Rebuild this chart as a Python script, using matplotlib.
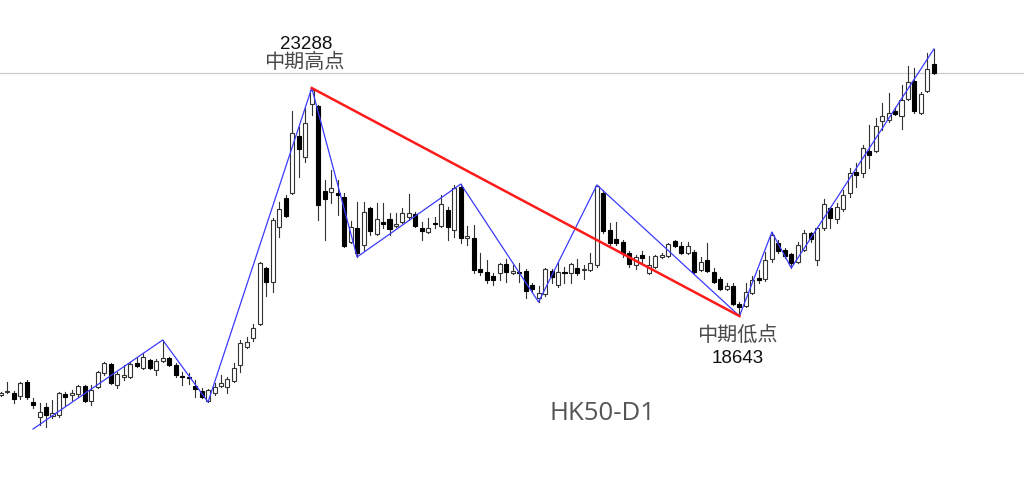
import matplotlib
matplotlib.use("Agg")
import matplotlib.pyplot as plt
from matplotlib.patches import Rectangle

# daily candles, HK50
opens = [17035, 17096, 17076, 17014, 17300, 16892, 16587, 16790, 16607, 16627,
         17055, 17035, 17055, 17218, 16913, 17198, 17483, 17666, 17238, 17401,
         17401, 17687, 17585, 17748, 17544, 17727, 17789, 17646, 17422, 17401,
         17218, 17116, 16913, 17076, 17218, 17198, 17320, 17646, 18013, 18196,
         18481, 19622, 19337, 20457, 21048, 21150, 22311, 21883, 22962, 22922,
         21190, 21170, 21150, 21068, 20151, 20437, 20090, 20844, 20314, 20559,
         20620, 20477, 20559, 20661, 20722, 20437, 20355, 20538, 20477, 20803,
         20396, 21272, 20233, 20233, 19601, 19540, 19459, 19520, 19703, 19520,
         19540, 19561, 19276, 19011, 19092, 19561, 19276, 19540, 19520, 19622,
         19581, 19581, 19683, 21150, 20396, 20213, 20151, 19927, 19683, 19887,
         19520, 19642, 19846, 19866, 20172, 20070, 19927, 19948, 19581, 19785,
         19540, 19398, 19194, 19255, 18889, 18848, 19113, 19418, 19398, 19805,
         20131, 19988, 19907, 19744, 19988, 20335, 19785, 20437, 20844, 20620,
         20824, 21150, 21577, 21557, 22005, 22005, 22616, 22637, 22820, 22718,
         23064, 23431, 22779, 23227, 23777]
highs = [17096, 17300, 17116, 17300, 17340, 16974, 16872, 16872, 16933, 17096,
         17096, 17137, 17238, 17238, 17238, 17524, 17707, 17687, 17503, 17646,
         17707, 17789, 17890, 17768, 17768, 18155, 17809, 17687, 17503, 17483,
         17340, 17177, 17157, 17279, 17442, 17401, 17687, 18155, 18216, 18481,
         19744, 19642, 20640, 20966, 21109, 22820, 22494, 22881, 23288, 22942,
         21414, 21618, 21414, 21150, 20579, 20966, 20966, 20864, 20946, 20946,
         20742, 20742, 20844, 21129, 20763, 20559, 20640, 20661, 21109, 20864,
         21313, 21333, 20477, 20498, 19927, 19785, 19520, 19724, 19805, 19683,
         19724, 19601, 19316, 19255, 19622, 19601, 19744, 19642, 19724, 19805,
         19683, 19927, 21313, 21211, 20538, 20559, 20192, 19968, 19887, 19968,
         19866, 19887, 19927, 20131, 20192, 20151, 20151, 19988, 19846, 20131,
         19622, 19439, 19316, 19316, 18929, 19316, 19459, 19581, 19948, 20355,
         20192, 20029, 19927, 20151, 20396, 20355, 20457, 21027, 20864, 20946,
         21211, 21659, 21761, 22127, 22535, 22677, 22983, 23187, 22901, 23350,
         23737, 23696, 23207, 24001, 24083]
lows = [17014, 17076, 16872, 16953, 16953, 16770, 16424, 16383, 16566, 16587,
        16831, 16933, 16994, 16892, 16831, 17177, 17442, 17259, 17177, 17340,
        17381, 17605, 17564, 17564, 17442, 17707, 17626, 17401, 17238, 17259,
        16994, 16974, 16892, 17035, 17198, 17076, 17300, 17503, 17992, 18135,
        18461, 19051, 19133, 20253, 20661, 21129, 21475, 21781, 22738, 20600,
        20192, 20946, 20701, 20050, 20131, 19846, 19988, 20294, 20294, 20437,
        20294, 20457, 20538, 20600, 20457, 20192, 20335, 20437, 20457, 20192,
        20253, 20131, 20090, 19520, 19479, 19316, 19276, 19377, 19337, 19500,
        19337, 19011, 19133, 18929, 19051, 19316, 19235, 19316, 19316, 19479,
        19398, 19561, 19642, 20335, 20090, 20090, 19846, 19642, 19601, 19724,
        19500, 19622, 19826, 19846, 20050, 19907, 19907, 19520, 19561, 19540,
        19316, 19174, 19174, 18868, 18643, 18827, 19092, 19316, 19357, 19744,
        19927, 19826, 19622, 19724, 19968, 20151, 19683, 20396, 20437, 20538,
        20783, 21068, 21272, 21475, 21659, 21985, 22433, 22596, 22738, 22453,
        23044, 22779, 22759, 23207, 23574]
closes = [17076, 17116, 16953, 17279, 16994, 16831, 16689, 16627, 16668, 17076,
          16994, 17076, 17218, 16913, 17137, 17503, 17687, 17279, 17463, 17442,
          17666, 17626, 17809, 17585, 17727, 17789, 17646, 17442, 17401, 17381,
          17157, 16994, 17137, 17198, 17279, 17361, 17585, 18094, 18114, 18400,
          19724, 19337, 20600, 20824, 20681, 22372, 22046, 22576, 23248, 20905,
          21027, 21251, 21109, 20070, 20457, 19927, 20763, 20376, 20620, 20518,
          20416, 20518, 20742, 20742, 20477, 20376, 20437, 20518, 20926, 20457,
          21251, 20233, 20274, 19581, 19540, 19377, 19377, 19703, 19540, 19561,
          19520, 19153, 19194, 19113, 19601, 19439, 19540, 19520, 19703, 19520,
          19601, 19724, 21292, 20376, 20131, 20131, 19927, 19703, 19846, 19826,
          19683, 19866, 19887, 20111, 20070, 19927, 20070, 19540, 19744, 19561,
          19337, 19194, 19255, 18889, 18827, 19133, 19377, 19377, 19785, 20294,
          19968, 19866, 19724, 20090, 20335, 20213, 20437, 20926, 20640, 20864,
          21109, 21557, 21516, 22066, 21924, 22514, 22718, 22779, 22759, 23044,
          23411, 22820, 23166, 23675, 23594]

# zigzag turning points (bar index, price)
zz_idx = [5, 25, 32, 48, 55, 71, 83, 92, 114, 119, 122, 144]
zz_price = [16342, 18155, 16892, 23288, 19846, 21333, 18929, 21313, 18643, 20355, 19622, 24083]

# medium-term swing: high -> low
swing_idx = [48, 114]
swing_price = [23288, 18643]

symbol = "HK50-D1"
high_label = "中期高点"
low_label = "中期低点"

fig = plt.figure(figsize=(10.24, 4.78), dpi=100)
ax = fig.add_axes([0, 0, 1, 1])
ax.set_axis_off()

body_w = 0.62
for i, (o, h, l, c) in enumerate(zip(opens, highs, lows, closes)):
    ax.plot([i, i], [l, h], color="#333333", lw=0.8, zorder=1)
    up = c >= o
    bottom = min(o, c)
    height = max(abs(c - o), 15)
    ax.add_patch(Rectangle((i - body_w / 2, bottom), body_w, height,
                           facecolor="white" if up else "black",
                           edgecolor="#333333" if up else "black",
                           lw=0.8, zorder=2))

# last price line
ax.axhline(closes[-1], color="#cccccc", lw=0.9, zorder=0)

ax.plot(zz_idx, zz_price, color="#3a3aff", lw=0.9, zorder=3)
ax.plot(swing_idx, swing_price, color="#ff1a1a", lw=1.8, zorder=4)

cjk = ["Noto Sans CJK SC", "DejaVu Sans"]
ax.annotate(high_label, (swing_idx[0], swing_price[0]), xytext=(-7, 26),
            textcoords="offset pixels", ha="center", va="center",
            fontsize=14.5, color="#4a4a4a", family=cjk)
ax.annotate(str(swing_price[0]), (swing_idx[0], swing_price[0]), xytext=(-6, 44),
            textcoords="offset pixels", ha="center", va="center",
            fontsize=13.5, color="#111111", family="Liberation Sans")
ax.annotate(low_label, (swing_idx[1], swing_price[1]), xytext=(-2, -19),
            textcoords="offset pixels", ha="center", va="center",
            fontsize=14.5, color="#4a4a4a", family=cjk)
ax.annotate(str(swing_price[1]), (swing_idx[1], swing_price[1]), xytext=(-2, -42),
            textcoords="offset pixels", ha="center", va="center",
            fontsize=13.5, color="#111111", family="Liberation Sans")

ax.text(602 / 1024, 1 - 414 / 478, symbol, transform=ax.transAxes,
        ha="center", va="center", fontsize=18.5, color="#555555", family="Open Sans")

ax.set_xlim(-0.1, 157.9)
ax.set_ylim(15344, 25081)

fig.savefig("out.png", dpi=100)
